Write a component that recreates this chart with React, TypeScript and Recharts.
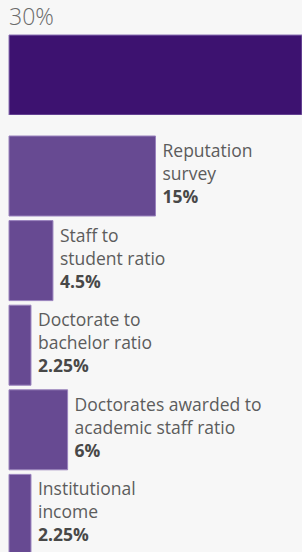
import * as React from "react";
import { Bar, BarChart, Cell, LabelList, XAxis, YAxis } from "recharts";

// overall share of this pillar
const pillar = ["Research environment"];
const pillarWeight = [30];

// sub-criteria (line breaks as drawn)
const criteria = [
  "Reputation\nsurvey",
  "Staff to\nstudent ratio",
  "Doctorate to\nbachelor ratio",
  "Doctorates awarded to\nacademic staff ratio",
  "Institutional\nincome",
];
const weights = [15, 4.5, 2.25, 6, 2.25];

const FONT = "'Open Sans', Lato, sans-serif";
const fmt = (v: number) => `${v}%`;

const topData = pillar.map((name, i) => ({ name, weight: pillarWeight[i] }));
const subData = criteria.map((name, i) => ({ name, weight: weights[i] }));

function TopLabel(props: any) {
  const { x, y, value } = props;
  return (
    <text x={x} y={y - 10.5} fontFamily={FONT} fontSize={23} fontWeight={300} fill="#6b6b6b">
      {fmt(value)}
    </text>
  );
}

function SubLabel(props: any) {
  const { x, y, width, value, index } = props;
  const lines = criteria[index].split("\n");
  const lx = x + width + 7;
  return (
    <text x={lx} y={y + 21} fontFamily={FONT} fontSize={17.5} fill="#5c5c5c">
      {lines.map((l, i) => (
        <tspan key={i} x={lx} dy={i === 0 ? 0 : 23}>
          {l}
        </tspan>
      ))}
      <tspan x={lx} dy={23} fontWeight={700} fill="#484848">
        {fmt(value)}
      </tspan>
    </text>
  );
}

export default function App() {
  return (
    <div
      style={{
        position: "absolute",
        left: 0,
        top: 0,
        width: 302,
        height: 552,
        overflow: "hidden",
        background: "#f7f7f7",
      }}
    >
      <div style={{ position: "absolute", left: 0, top: 0 }}>
        <BarChart
          width={302}
          height={115}
          data={topData}
          layout="vertical"
          margin={{ top: 35, right: 0, left: 9, bottom: 0 }}
          barCategoryGap={0}
        >
          <XAxis type="number" domain={[0, 30]} hide />
          <YAxis type="category" dataKey="name" hide />
          <Bar dataKey="weight" fill="#3d1270" stroke="#8a70b3" strokeWidth={1} isAnimationActive={false}>
            <LabelList dataKey="weight" content={<TopLabel />} />
          </Bar>
        </BarChart>
      </div>
      <div style={{ position: "absolute", left: 0, top: 134 }}>
        <BarChart
          width={302}
          height={423}
          data={subData}
          layout="vertical"
          margin={{ top: 0, right: 0, left: 9, bottom: 0 }}
          barSize={80}
        >
          <XAxis type="number" domain={[0, 30]} hide />
          <YAxis type="category" dataKey="name" hide />
          <Bar dataKey="weight" stroke="#9a83bd" strokeWidth={1} isAnimationActive={false}>
            {subData.map((d) => (
              <Cell key={d.name} fill="#674a92" />
            ))}
            <LabelList dataKey="weight" content={<SubLabel />} />
          </Bar>
        </BarChart>
      </div>
    </div>
  );
}
